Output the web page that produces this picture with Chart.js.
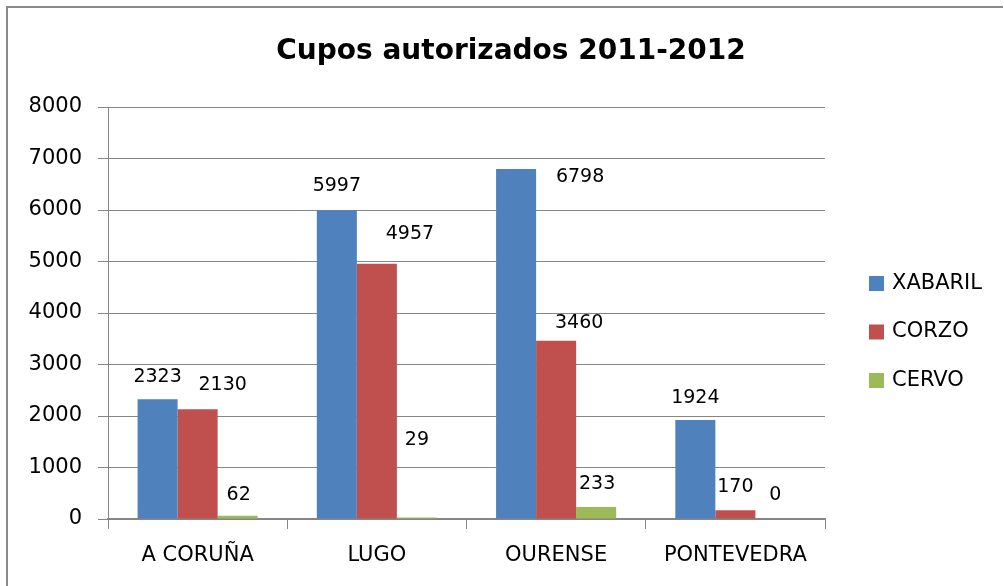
<!DOCTYPE html>
<html><head><meta charset="utf-8">
<script src="https://cdn.jsdelivr.net/npm/chart.js@4/dist/chart.umd.min.js"></script>
<style>html,body{margin:0;padding:0;background:#fff;overflow:hidden}canvas{display:block}</style>
</head><body>
<canvas id="c" width="1004" height="586"></canvas>
<script>
const chartTitle = 'Cupos autorizados 2011-2012';
const categories = ['A CORUÑA', 'LUGO', 'OURENSE', 'PONTEVEDRA'];
const seriesNames = ['XABARIL', 'CORZO', 'CERVO'];
const xabaril = [2323, 5997, 6798, 1924];
const corzo = [2130, 4957, 3460, 170];
const cervo = [62, 29, 233, 0];
const yTicks = [0, 1000, 2000, 3000, 4000, 5000, 6000, 7000, 8000];

const seriesColors = ['#4F81BD', '#C0504D', '#9BBB59'];
const FONT = "'DejaVu Sans', sans-serif";
// label nudges in px (dx, dy of label centre from the bar top), as in the original layout
const labelOffsets = [
  [[0, -22], [0, -24], [64, 8], [0, -22]],
  [[25, -24], [33, -30], [23, -18], [0, -23]],
  [[1, -21], [0, -77], [1, -23], [0, -24]]
];

const decor = {
  id: 'decor',
  beforeDraw(chart) {
    const ctx = chart.ctx;
    ctx.save();
    ctx.fillStyle = '#fff';
    ctx.fillRect(0, 0, chart.width, chart.height);
    ctx.fillStyle = '#8a8a8a';
    ctx.fillRect(6, 6, chart.width - 7, 2);
    ctx.fillRect(6, 6, 2, chart.height - 6);
    ctx.restore();
  },
  afterDatasetsDraw(chart) {
    const ctx = chart.ctx;
    ctx.save();
    ctx.font = '19px ' + FONT;
    ctx.fillStyle = '#000';
    ctx.textAlign = 'center';
    ctx.textBaseline = 'middle';
    chart.data.datasets.forEach((ds, i) => {
      const meta = chart.getDatasetMeta(i);
      meta.data.forEach((bar, j) => {
        const off = labelOffsets[i][j];
        ctx.fillText(String(ds.data[j]), bar.x + off[0], bar.y + off[1]);
      });
    });
    ctx.restore();
  },
  afterDraw(chart) {
    const ctx = chart.ctx;
    ctx.save();
    ctx.fillStyle = '#000';
    ctx.textAlign = 'center';
    ctx.textBaseline = 'middle';
    ctx.font = 'bold 28px ' + FONT;
    ctx.fillText(chartTitle, 511, 52);
    ctx.font = '21px ' + FONT;
    ctx.textAlign = 'left';
    seriesNames.forEach((name, i) => {
      const cy = 283.5 + i * 48.5;
      ctx.fillStyle = seriesColors[i];
      ctx.fillRect(869, cy - 7.5, 15, 15);
      ctx.fillStyle = '#000';
      ctx.fillText(name, 892, cy);
    });
    ctx.restore();
  }
};

Chart.defaults.font.family = FONT;
Chart.defaults.color = '#000';

new Chart(document.getElementById('c'), {
  type: 'bar',
  data: {
    labels: categories,
    datasets: [
      { label: seriesNames[0], data: xabaril, backgroundColor: seriesColors[0] },
      { label: seriesNames[1], data: corzo, backgroundColor: seriesColors[1] },
      { label: seriesNames[2], data: cervo, backgroundColor: seriesColors[2] }
    ]
  },
  options: {
    responsive: false,
    animation: false,
    layout: { padding: { top: 107, right: 179, left: 0, bottom: 0 } },
    datasets: { bar: { categoryPercentage: 0.67, barPercentage: 1.0 } },
    plugins: { legend: { display: false }, title: { display: false }, tooltip: { enabled: false } },
    scales: {
      x: {
        grid: { drawOnChartArea: false, drawTicks: true, tickLength: 10, color: '#868686', lineWidth: 1 },
        border: { display: true, color: '#868686', width: 2 },
        ticks: { font: { size: 21 }, color: '#000', padding: 14, maxRotation: 0 },
        afterFit(scale) { scale.height = 67; }
      },
      y: {
        min: 0, max: 8000,
        afterBuildTicks(scale) { scale.ticks = yTicks.map(v => ({ value: v })); },
        grid: { color: '#868686', lineWidth: 1, tickLength: 10, drawTicks: true },
        border: { display: true, color: '#868686', width: 1 },
        ticks: { font: { size: 21 }, color: '#000', padding: 16, callback: v => String(v) },
        afterFit(scale) { scale.width = 108; }
      }
    }
  },
  plugins: [decor]
});
</script>
</body></html>
